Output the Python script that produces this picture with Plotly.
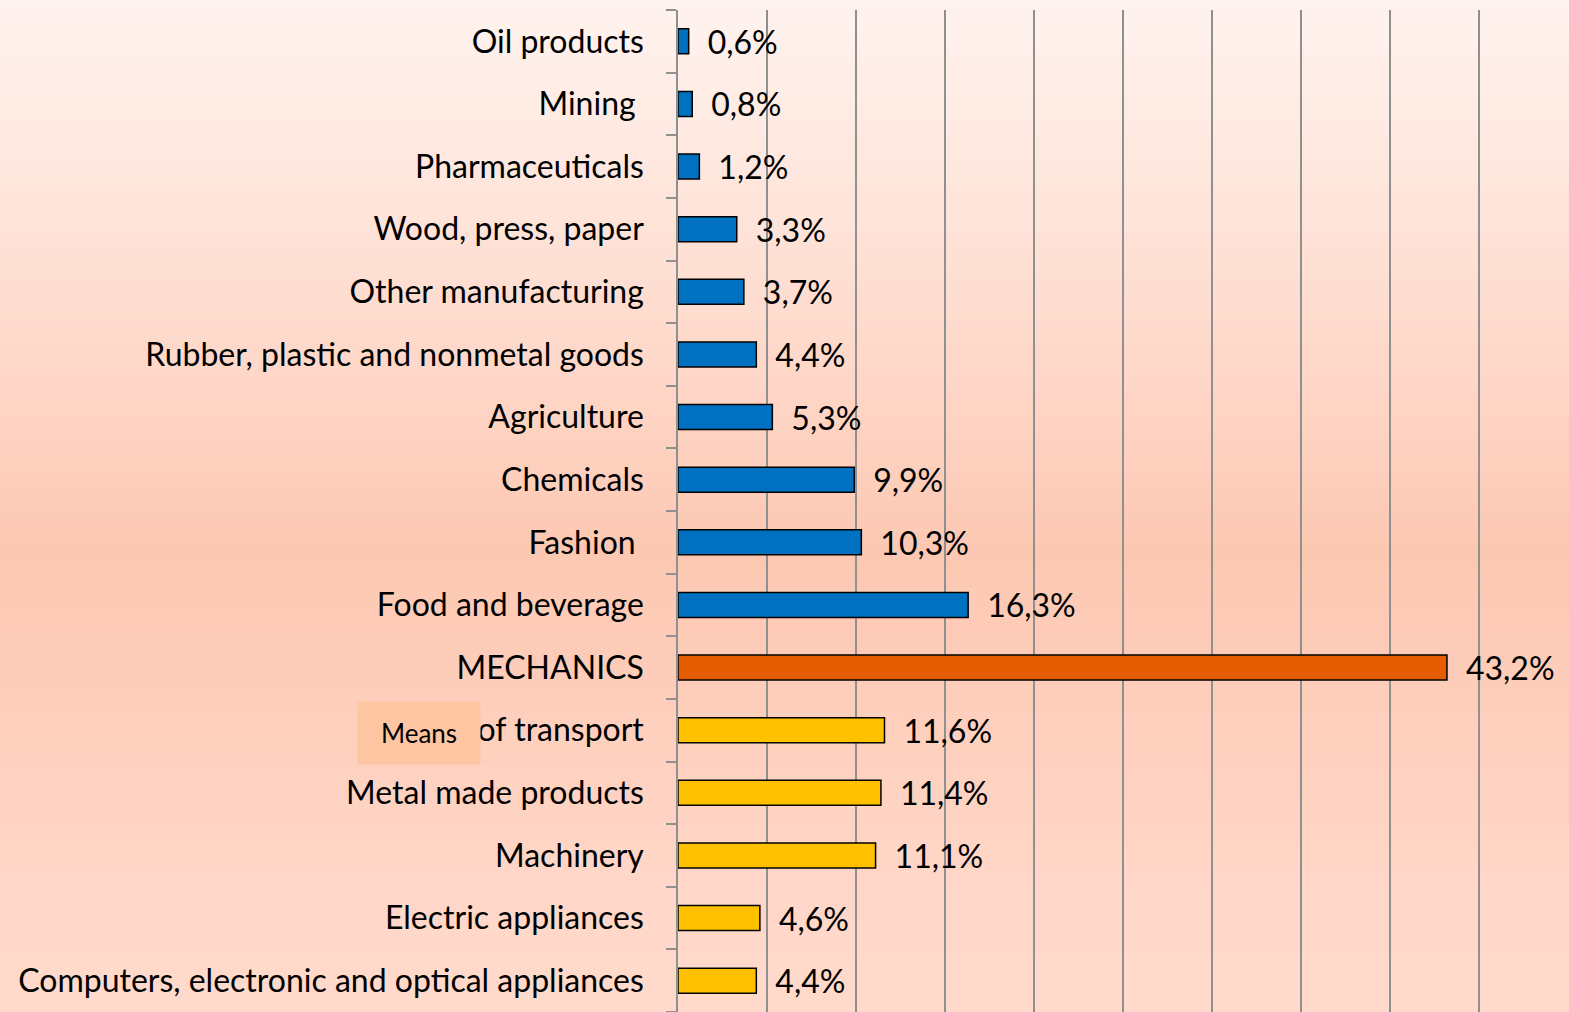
import plotly.graph_objects as go

# ---- data (top to bottom) ----
categories = [
    "Oil products", "Mining\u00a0", "Pharmaceuticals", "Wood, press, paper",
    "Other manufacturing", "Rubber, plastic and nonmetal goods", "Agriculture",
    "Chemicals", "Fashion\u00a0", "Food and beverage", "MECHANICS",
    "Means of transport", "Metal made products", "Machinery",
    "Electric appliances", "Computers, electronic and optical appliances",
]
# visible tick texts ("Means" of the transport label sits in its own box)
tick_texts = [
    "Oil products", "Mining\u00a0", "Pharmaceuticals", "Wood, press, paper",
    "Other manufacturing", "Rubber, plastic and nonmetal goods", "Agriculture",
    "Chemicals", "Fashion\u00a0", "Food and beverage", "MECHANICS",
    "of transport", "Metal made products", "Machinery",
    "Electric appliances", "Computers, electronic and optical appliances",
]
values = [0.6, 0.8, 1.2, 3.3, 3.7, 4.4, 5.3, 9.9, 10.3, 16.3, 43.2,
          11.6, 11.4, 11.1, 4.6, 4.4]
groups = ["sector"] * 10 + ["mechanics"] + ["mech_sub"] * 5
x_ticks = [0, 5, 10, 15, 20, 25, 30, 35, 40, 45, 50]
box_text = "Means"

# ---- styles ----
group_colors = {"sector": "#0070C0", "mechanics": "#E65C00", "mech_sub": "#FFC000"}
colors = [group_colors[g] for g in groups]
labels = ["\u2002" + f"{v:.1f}".replace(".", ",") + "%" for v in values]

W, H = 1569, 1012
ML, MR, MT, MB = 678, 1, 10, 0
plot_h = H - MT - MB

FONT = "Lato"

fig = go.Figure()
fig.add_trace(go.Bar(
    y=categories, x=values, orientation="h",
    marker=dict(color=colors, line=dict(color="#000000", width=1.5)),
    width=0.4,
    text=labels, textposition="outside", constraintext="none",
    cliponaxis=False,
    textfont=dict(family=FONT, size=32, color="#000000"),
    hoverinfo="skip",
))

# vertical background gradient
stops = [(0, (0xFF, 0xF3, 0xEF)), (200, (0xFE, 0xE5, 0xDB)), (400, (0xFE, 0xD5, 0xC5)),
         (550, (0xFC, 0xC8, 0xB2)), (700, (0xFE, 0xCE, 0xBB)), (900, (0xFF, 0xD7, 0xC9)),
         (1012, (0xFF, 0xDA, 0xCB))]

def col_at(yp):
    for (y0, c0), (y1, c1) in zip(stops[:-1], stops[1:]):
        if y0 <= yp <= y1:
            t = (yp - y0) / (y1 - y0) if y1 > y0 else 0
            return "rgb(%d,%d,%d)" % tuple(round(a + (b - a) * t) for a, b in zip(c0, c1))
    return "rgb(255,218,203)"

shapes = []
step = 4
for yp in range(0, H, step):
    y_top = (H - MB - yp) / plot_h
    y_bot = (H - MB - (yp + step + 1)) / plot_h
    shapes.append(dict(type="rect", xref="paper", yref="paper",
                       x0=-ML / (W - ML - MR) - 0.01, x1=1.01, y0=y_bot, y1=y_top,
                       fillcolor=col_at(yp + step / 2), line=dict(width=0), layer="below"))

fig.update_layout(
    width=W, height=H,
    margin=dict(l=ML, r=MR, t=MT, b=MB),
    paper_bgcolor="#FFDACB", plot_bgcolor="rgba(0,0,0,0)",
    showlegend=False, shapes=shapes,
    bargap=0.6,
    font=dict(family=FONT, color="#000000"),
)
fig.update_xaxes(range=[0, 50], tickvals=x_ticks, showticklabels=False,
                 showgrid=True, gridcolor="#909090", gridwidth=1.5,
                 zeroline=False, showline=False, ticks="")
fig.update_yaxes(autorange="reversed", type="category",
                 tickvals=categories, ticktext=tick_texts,
                 showline=True, linecolor="#909090", linewidth=1.5,
                 ticks="outside", tickson="boundaries", ticklen=10,
                 tickcolor="#909090", tickwidth=1.5,
                 ticklabelstandoff=26,
                 tickfont=dict(family=FONT, size=32, color="#000000"),
                 showgrid=False)

fig.add_annotation(text=box_text, xref="paper", yref="y",
                   x=(419 - ML) / (W - ML - MR), y=categories[11],
                   xanchor="center", yanchor="middle",
                   yshift=-3, showarrow=False, width=120, height=60,
                   bgcolor="#FEC5A3", font=dict(family=FONT, size=26, color="#000000"))

fig.write_html("out.html", config={"displayModeBar": False},
               post_script="document.body.style.margin='0';document.body.style.padding='0';")
